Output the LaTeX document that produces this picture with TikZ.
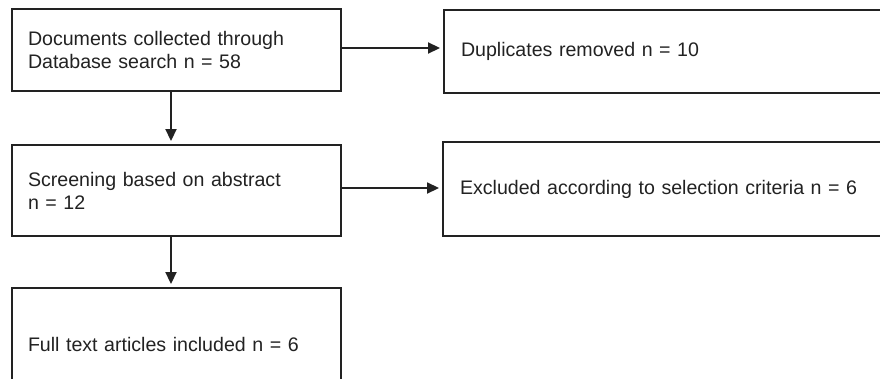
\documentclass[tikz,border=0pt]{standalone}
\usepackage{fontspec}
\setmainfont{Liberation Sans}
\usetikzlibrary{arrows.meta}
\definecolor{ink}{HTML}{222222}
\begin{document}
\begin{tikzpicture}[x=1pt,y=-1pt,
  box/.style={draw=ink, line width=1.9pt, rectangle, inner ysep=0pt,
    align=left, text=ink, font=\fontsize{19.6}{23}\selectfont},
  flow/.style={draw=ink, line width=1.8pt, shorten >=3pt,
    -{Triangle[length=12pt,width=11pt]}}]
\useasboundingbox (0,0) rectangle (880,378);
\clip (0,0) rectangle (880,378);
\node[box, inner xsep=16pt, text width=297pt, minimum width=329pt, minimum height=82pt] (A) at (176.5,50)
  {Documents collected through\\Database search n = 58};
\node[box, inner xsep=16pt, text width=297pt, minimum width=329pt, minimum height=91pt] (B) at (176.5,190.5)
  {Screening based on abstract\\n = 12};
\node[box, inner xsep=16pt, text width=297pt, minimum width=329pt, minimum height=112pt] (C) at (176.5,344)
  {Full text articles included n = 6};
\node[box, inner xsep=17pt, text width=422pt, minimum width=456pt, minimum height=83pt] (D) at (672,51.5)
  {Duplicates removed n = 10};
\node[box, inner xsep=17pt, text width=423pt, minimum width=457pt, minimum height=94pt] (E) at (671.5,189)
  {Excluded according to selection criteria n = 6};
\draw[flow] ([yshift=2pt]A.east) -- ([yshift=2pt]A.east -| D.west);
\draw[flow] ([yshift=2.5pt]B.east) -- ([yshift=2.5pt]B.east -| E.west);
\draw[flow] ([xshift=-5.5pt]A.south) -- ([xshift=-5.5pt]A.south |- B.north);
\draw[flow] ([xshift=-5.5pt]B.south) -- ([xshift=-5.5pt]B.south |- C.north);
\end{tikzpicture}
\end{document}
